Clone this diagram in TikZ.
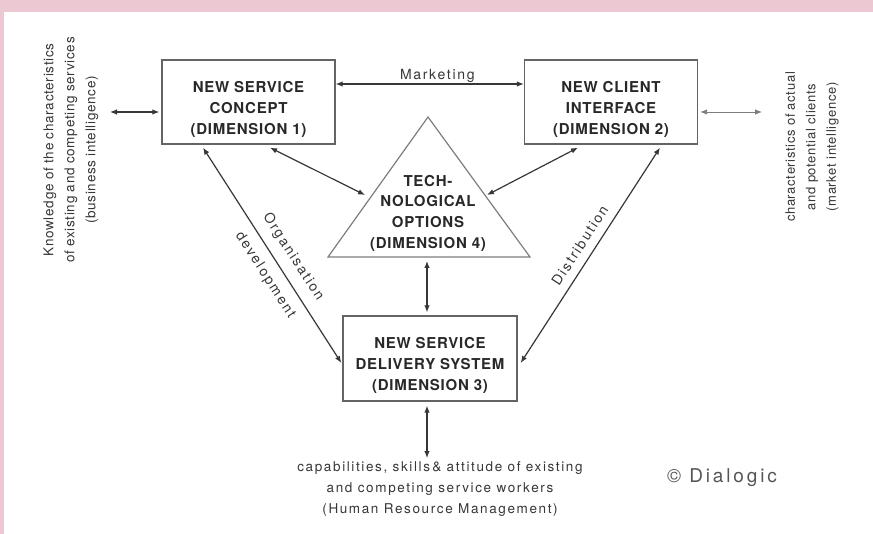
\documentclass[tikz,border=0pt]{standalone}
\usepackage{fontspec}
\setmainfont{TeX Gyre Heros}
\newfontfamily\widefont[LetterSpace=12]{TeX Gyre Heros}
\newfontfamily\slopefont[LetterSpace=14]{TeX Gyre Heros}
\newfontfamily\sidefont[LetterSpace=5]{TeX Gyre Heros}
\newfontfamily\boxfont[LetterSpace=5]{TeX Gyre Heros}
\newfontfamily\logofont[LetterSpace=15]{TeX Gyre Heros}
\usepackage{xcolor}
\usepackage{tikz}
\usetikzlibrary{arrows.meta}
\usetikzlibrary{positioning}

\definecolor{pinkframe}{RGB}{236,200,211}
\definecolor{ink}{RGB}{55,55,55}
\definecolor{boxink}{RGB}{40,40,40}
\definecolor{boxline}{RGB}{100,100,100}
\definecolor{triline}{RGB}{125,125,125}

\begin{document}
\begin{tikzpicture}[x=1pt, y=-1pt]
        \tikzset{
            every node/.style={
                align=center,
                text centered,
                text=ink,
            },
            dimbox/.style={draw=boxline, line width=1.3pt, inner sep=0pt,
                minimum width=173pt, minimum height=84pt},
            dimtext/.style={text=boxink, font=\boxfont\bfseries\fontsize{15}{21}\selectfont},
            link/.style={{Latex[length=7pt,width=5.5pt]}-{Latex[length=7pt,width=5.5pt]},
                draw=ink, line width=1.2pt},
            lbl/.style={font=\slopefont\fontsize{14}{21}\selectfont},
        }
        % frame
        \fill[pinkframe] (0,0) rectangle (873,534);
        \fill[white] (4,12) rectangle (873,534);
        \useasboundingbox (0,0) rectangle (873,534);

        \node[dimbox] (nsc) at (248.5,102) {};
        \node[dimtext] (nsct) at ([yshift=-7pt]nsc.center) {NEW SERVICE\\CONCEPT\\(DIMENSION 1)};
        \node[dimbox] (nci) at (611,102) {};
        \node[dimtext] (ncit) at ([yshift=-7pt]nci.center) {NEW CLIENT\\INTERFACE\\(DIMENSION 2)};
        \node[dimbox, minimum width=174pt, minimum height=85pt] (nsd) at (430,358.5) {};
        \node[dimtext] (nsdt) at ([yshift=-7pt]nsd.center) {NEW SERVICE\\DELIVERY SYSTEM\\(DIMENSION 3)};

        % technological options
        \coordinate (tap) at (428,117);
        \coordinate (tbl) at (328,257);
        \coordinate (tbr) at (530,257);
        \draw[draw=triline, line width=1.2pt] (tap) -- (tbl) -- (tbr) -- cycle;
        \node[dimtext, font=\boxfont\bfseries\fontsize{15}{20.7}\selectfont] (tec) at (428,213) {TECH-\\NOLOGICAL\\OPTIONS\\(DIMENSION 4)};
        \coordinate (tl) at (365,195);
        \coordinate (tr) at (487,195);
        \coordinate (tb) at (427,261);

        \draw[link] ([yshift=18pt]nsc.east) -- ([yshift=18pt]nci.west)
            node(mk)[above, pos=0.54, yshift=-2pt, font=\widefont\fontsize{14}{21}\selectfont]{Marketing};
        \draw[link] ([xshift=21.5pt, yshift=-3pt]nsc.south) -- (tl);
        \draw[link] ([xshift=-33pt, yshift=-3pt]nci.south) -- (tr);
        \draw[link] ([xshift=-45.5pt, yshift=-3pt]nsc.south) -- ([xshift=-1pt, yshift=-4.5pt]nsd.west)
            node(og)[sloped, above=6pt, pos=0.55, lbl]{Organisation}
            node(dv)[sloped, below=6pt, pos=0.55, lbl]{development};
        \draw[link] ([xshift=3pt, yshift=-4.5pt]nsd.east) -- ([xshift=49pt, yshift=-3pt]nci.south)
            node(di)[sloped, above=5pt, pos=0.51, lbl]{Distribution};
        \draw[link] (tb) -- ([xshift=-3pt, yshift=3pt]nsd.north);

        % outer links
        \node[rotate=90, font=\sidefont\fontsize{13.5}{21}\selectfont] (bi) at (71,150)
            {Knowledge of the characteristics\\of existing and competing  services\\(business intelligence)};
        \node[rotate=90, font=\sidefont\fontsize{13}{20.5}\selectfont] (mi) at (812,147)
            {characteristics of  actual\\and potential clients\\(market intelligence)};
        \coordinate (bl) at (110,112);
        \coordinate (br) at (762,112);
        \draw[link] (bl) -- ([xshift=-2pt, yshift=-10pt]nsc.west);
        \draw[link, line width=0.9pt, draw=triline] ([xshift=2pt, yshift=-10pt]nci.east) -- (br);

        \node[font=\widefont\fontsize{13.5}{21}\selectfont] (hr) at (440,489)
            {capabilities, skills\,\& attitude of existing\\and competing service workers\\(Human Resource Management)};
        \draw[link] ([xshift=-3pt, yshift=-4pt]nsd.south) -- ([xshift=-13pt]hr.north);

        \node[font=\logofont\fontsize{19}{23}\selectfont, text=ink!85] (dl) at (722,478) {\textcopyright\ Dialogic};
    \end{tikzpicture}
\end{document}
